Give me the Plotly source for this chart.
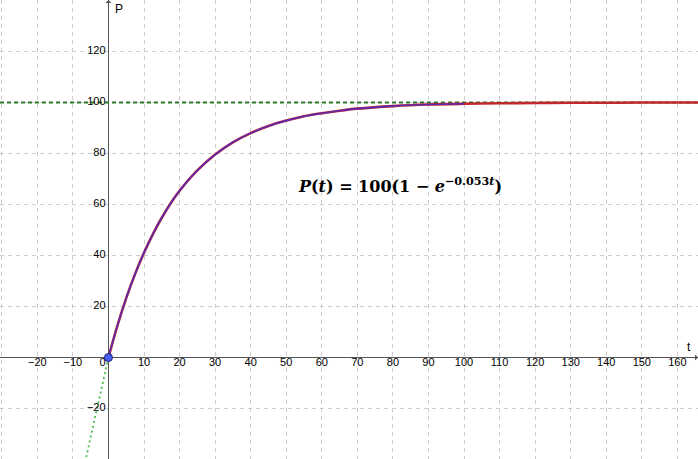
import plotly.graph_objects as go

# valores: P(t) = 100(1 - e^(-0.053t))
t_vals = [0, 2.5, 5, 7.5, 10, 12.5, 15, 17.5, 20, 25, 30, 35, 40, 45, 50, 55, 60, 65, 70,
          80, 90, 100, 110, 120, 130, 140, 150, 166]
p_vals = [0, 12.4, 23.3, 32.8, 41.1, 48.4, 54.8, 60.5, 65.4, 73.4, 79.6, 84.4, 88.0, 90.8,
          92.9, 94.6, 95.8, 96.8, 97.6, 98.6, 99.2, 99.5, 99.7, 99.8, 99.9, 99.9, 100, 100]
t_azul_max = 100  # la curva azul termina en t=100

asintota = 100
recta_t = [0, -6.4]   # recta punteada verde bajo el origen
recta_p = [0, -40]

x_ticks = [-20, -10, 10, 20, 30, 40, 50, 60, 70, 80, 90, 100, 110, 120, 130, 140, 150, 160]
y_ticks = [-20, 20, 40, 60, 80, 100, 120]

x_rango = [-30.5, 165.8]
y_rango = [-39.8, 140.2]

fuente = "Liberation Sans, Arial"

fig = go.Figure()

# asintota horizontal
fig.add_trace(go.Scatter(x=x_rango, y=[asintota, asintota], mode="lines",
                         line=dict(color="#2a7a2a", width=2, dash="4px,3px"), hoverinfo="skip"))

# recta punteada
fig.add_trace(go.Scatter(x=recta_t, y=recta_p, mode="lines",
                         line=dict(color="#4cbc4c", width=1.8, dash="2px,3px"), hoverinfo="skip"))

# curva roja
fig.add_trace(go.Scatter(x=t_vals, y=p_vals, mode="lines", line_shape="spline",
                         line=dict(color="#c0282d", width=2.6), hoverinfo="skip"))

# curva azul encima (hasta t=100)
t_az = [t for t in t_vals if t <= t_azul_max]
p_az = p_vals[:len(t_az)]
fig.add_trace(go.Scatter(x=t_az, y=p_az, mode="lines", line_shape="spline",
                         line=dict(color="rgba(50,40,230,0.7)", width=1.6), hoverinfo="skip"))

# punto en el origen
fig.add_trace(go.Scatter(x=[0], y=[0], mode="markers",
                         marker=dict(size=8, color="#4b5cf0", line=dict(color="#1a237e", width=1)),
                         hoverinfo="skip"))

# etiquetas de los ejes
fig.add_trace(go.Scatter(x=x_ticks, y=[0] * len(x_ticks), mode="text",
                         text=[str(v).replace("-", "−") for v in x_ticks],
                         textposition="bottom center",
                         textfont=dict(family=fuente, size=11, color="black"),
                         hoverinfo="skip"))
fig.add_trace(go.Scatter(x=[-0.8] * len(y_ticks), y=y_ticks, mode="text",
                         text=[str(v).replace("-", "−") for v in y_ticks],
                         textposition="middle left",
                         textfont=dict(family=fuente, size=11, color="black"),
                         hoverinfo="skip"))
fig.add_trace(go.Scatter(x=[-0.8], y=[0], mode="text", text=["0"], textposition="bottom left",
                         textfont=dict(family=fuente, size=11, color="black"),
                         hoverinfo="skip"))

# flechas de los ejes
fig.add_annotation(x=x_rango[1], y=0, ax=-8, ay=0, axref="pixel", ayref="pixel", text="",
                   showarrow=True, arrowhead=1, arrowsize=1, arrowwidth=1, arrowcolor="#555555")
fig.add_annotation(x=0, y=y_rango[1], ax=0, ay=8, axref="pixel", ayref="pixel", text="",
                   showarrow=True, arrowhead=1, arrowsize=1, arrowwidth=1, arrowcolor="#555555")
fig.add_annotation(x=1.2, y=136.5, text="P", showarrow=False, xanchor="left",
                   font=dict(family=fuente, size=12, color="black"))
fig.add_annotation(x=163.2, y=0.6, text="t", showarrow=False, yanchor="bottom",
                   font=dict(family=fuente, size=12, color="black"))

# formula
fig.add_annotation(x=82, y=67.5, showarrow=False,
                   text="<b><i>P</i>(<i>t</i>) = 100(1 − <i>e</i><sup>−0.053<i>t</i></sup>)</b>",
                   font=dict(family="DejaVu Serif, Liberation Serif, serif", size=16, color="black"))

fig.update_xaxes(range=x_rango, showgrid=True, dtick=10, tick0=0, gridcolor="#cccccc",
                 griddash="4px,4px", gridwidth=1, showticklabels=False, ticks="",
                 zeroline=True, zerolinecolor="#555555", zerolinewidth=1, showline=False)
fig.update_yaxes(range=y_rango, showgrid=True, dtick=20, tick0=0, gridcolor="#cccccc",
                 griddash="4px,4px", gridwidth=1, showticklabels=False, ticks="",
                 zeroline=True, zerolinecolor="#555555", zerolinewidth=1, showline=False)

fig.update_layout(width=698, height=459, margin=dict(l=0, r=0, t=0, b=0),
                  plot_bgcolor="white", paper_bgcolor="white", showlegend=False)

# quitar el margen del body para que el grafico ocupe toda la ventana
fig.write_html("out.html", config={"displayModeBar": False},
               post_script="document.body.style.margin='0';")
